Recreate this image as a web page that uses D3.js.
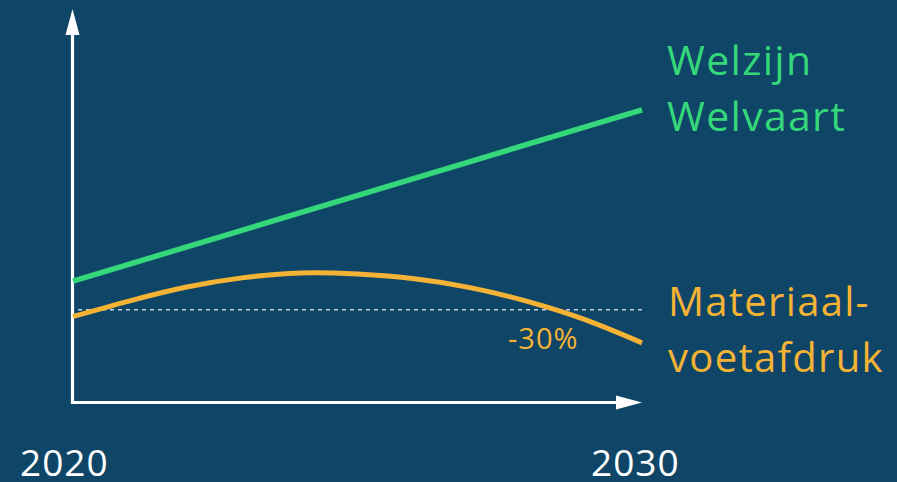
<!DOCTYPE html>
<html>
<head>
<meta charset="utf-8">
<script src="https://cdn.jsdelivr.net/npm/d3@7"></script>
<style>
	html, body { margin: 0; padding: 0; background: #0f4566; }
	svg { display: block; }
	text { font-family: "Open Sans", sans-serif; }
</style>
</head>
<body>
<svg id="chart"></svg>
<script>
// years on the x axis
var years = [2020, 2021, 2022, 2023, 2024, 2025, 2026, 2027, 2028, 2029, 2030]
// welzijn / welvaart: straight rise
var welzijn = [{"year": 2020, "v": 31.0}, {"year": 2030, "v": 74.6}]
// materiaalvoetafdruk: rises then falls
var voetafdruk = [22.0, 26.0, 29.5, 31.9, 33.1, 32.8, 31.6, 29.3, 25.8, 21.2, 15.3]
// reference level (2020 level)
var referentie = 23.7
var tickLabels = ["2020", "2030"]

var width = 897
var height = 482

var x = d3.scaleLinear()
	.domain([2020, 2030])
	.range([73, 642])

var y = d3.scaleLinear()
	.domain([0, 100])
	.range([403, 10])

var svg = d3.select("#chart")
	.attr("width", width)
	.attr("height", height)
	.attr("viewBox", [0, 0, width, height])

svg.append("rect")
	.attr("width", width)
	.attr("height", height)
	.attr("fill", "#0f4566")

// axes with arrowheads
var x0 = x(2020) - 0.5
var y0 = y(0) - 0.5
svg.append("line")
	.attr("x1", x0).attr("y1", y0 + 1.5)
	.attr("x2", x0).attr("y2", 34)
	.attr("stroke", "#fff").attr("stroke-width", 3.2)
svg.append("path")
	.attr("d", `M${x0 - 7},35 L${x0},9 L${x0 + 7},35 Z`)
	.attr("fill", "#fff")
svg.append("line")
	.attr("x1", x0 - 1.5).attr("y1", y0)
	.attr("x2", 618).attr("y2", y0)
	.attr("stroke", "#fff").attr("stroke-width", 3.2)
svg.append("path")
	.attr("d", `M616,${y0 - 7} L642,${y0} L616,${y0 + 7} Z`)
	.attr("fill", "#fff")

// dashed reference line
svg.append("line")
	.attr("x1", x(2020) + 5).attr("x2", x(2030) + 1)
	.attr("y1", y(referentie)).attr("y2", y(referentie))
	.attr("stroke", "#c9d3dc")
	.attr("stroke-width", 1.5)
	.attr("stroke-dasharray", "4,4")

var lineFunction = d3.line()
	.x(d => x(d.year))
	.y(d => y(d.v))

svg.append("path")
	.attr("fill", "none")
	.attr("stroke", "#34d77a")
	.attr("stroke-width", 5.5)
	.attr("d", lineFunction(welzijn))

var data2 = years.map((yr, i) => {return {"year": yr, "v": voetafdruk[i]}})
svg.append("path")
	.attr("fill", "none")
	.attr("stroke", "#f5b335")
	.attr("stroke-width", 5)
	.attr("d", lineFunction.curve(d3.curveNatural)(data2))

// labels
svg.append("text")
	.attr("x", 508).attr("y", 349)
	.attr("font-size", 29)
	.attr("letter-spacing", 1)
	.attr("fill", "#f5b335")
	.text("-30%")

var labelsGreen = ["Welzijn", "Welvaart"]
svg.selectAll(".lg").data(labelsGreen).enter().append("text")
	.attr("x", 667)
	.attr("y", (d, i) => 75 + i * 56)
	.attr("font-size", 41)
	.attr("letter-spacing", 1.3)
	.attr("fill", "#34d77a")
	.text(d => d)

var labelsOrange = ["Materiaal-", "voetafdruk"]
svg.selectAll(".lo").data(labelsOrange).enter().append("text")
	.attr("x", 668)
	.attr("y", (d, i) => 316 + i * 56)
	.attr("font-size", 40)
	.attr("letter-spacing", 1.3)
	.attr("fill", "#f5b335")
	.text(d => d)

svg.selectAll(".tick").data(tickLabels).enter().append("text")
	.attr("x", (d, i) => i === 0 ? 20 : 591)
	.attr("y", 476)
	.attr("font-size", 37)
	.attr("letter-spacing", 1)
	.attr("fill", "#fff")
	.text(d => d)
</script>
</body>
</html>
